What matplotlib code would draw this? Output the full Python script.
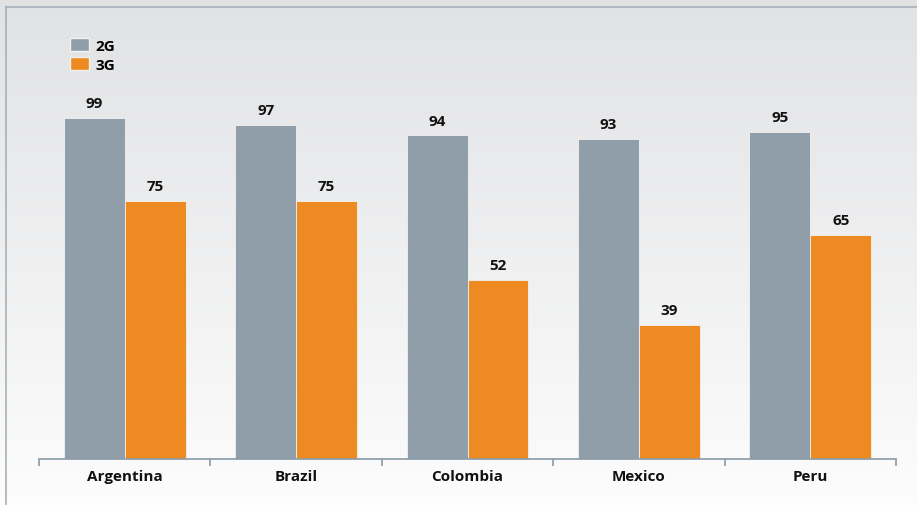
import numpy as np
import matplotlib
matplotlib.use("Agg")
import matplotlib.pyplot as plt
from matplotlib.lines import Line2D
from matplotlib.patches import Patch

countries = ["Argentina", "Brazil", "Colombia", "Mexico", "Peru"]
g2 = [99, 97, 94, 93, 95]
g3 = [75, 75, 52, 39, 65]
series_names = ["2G", "3G"]

col_2g = "#8f9ea8"
col_3g = "#ee8a22"
font = ["Open Sans", "DejaVu Sans"]

W, H = 917, 506
fig = plt.figure(figsize=(W / 100, H / 100), dpi=100)

# gradient background
bg = fig.add_axes([0, 0, 1, 1], zorder=-5)
grad = np.linspace(0, 1, 256).reshape(-1, 1)
top = np.array([0.882, 0.886, 0.894])
bot = np.array([0.99, 0.99, 0.99])
img = top + (bot - top) * grad[..., None]
bg.imshow(img, aspect="auto", extent=[0, 1, 0, 1], origin="upper")
bg.axis("off")

# frame lines top and left
fig.add_artist(Line2D([6 / W, 1], [1 - 7.5 / H, 1 - 7.5 / H], color="#a7b1ba", lw=1.2))
fig.add_artist(Line2D([6 / W, 6 / W], [0, 1 - 7.5 / H], color="#a7b1ba", lw=1.2))

left, right, bottom, topy = 39, 896, 460, 8
ax = fig.add_axes([left / W, 1 - bottom / H, (right - left) / W, (bottom - topy) / H])
ax.patch.set_alpha(0)

x = np.arange(len(countries))
bw = 0.355
b1 = ax.bar(x - bw / 2, g2, bw, color=col_2g, edgecolor="#f2f2f2", linewidth=0.6)
b2 = ax.bar(x + bw / 2, g3, bw, color=col_3g, edgecolor="#f2f2f2", linewidth=0.6)

for bars, vals in ((b1, g2), (b2, g3)):
    for b, v in zip(bars, vals):
        ax.annotate(str(v), (b.get_x() + b.get_width() / 2, v), xytext=(0, 5.5),
                    textcoords="offset points", ha="center", va="bottom",
                    fontsize=11, fontweight="bold", family=font, color="#111111")

ax.set_xlim(-0.5, len(countries) - 0.5)
ax.set_ylim(0, (bottom - topy) / 3.445)

for s in ["top", "right", "left"]:
    ax.spines[s].set_visible(False)
ax.spines["bottom"].set_color("#8a9aa8")
ax.spines["bottom"].set_linewidth(1.2)
ax.set_yticks([])
ax.set_xticks(np.arange(-0.5, len(countries), 1))
ax.set_xticklabels([])
ax.tick_params(axis="x", length=5, width=1.2, color="#8a9aa8", direction="out")
ax.set_xticks(x, minor=True)
ax.set_xticklabels(countries, minor=True, fontsize=11, fontweight="bold", family=font, color="#111111")
ax.tick_params(axis="x", which="minor", length=0, pad=7)

handles = [Patch(facecolor=col_2g, edgecolor="#f2f2f2"), Patch(facecolor=col_3g, edgecolor="#f2f2f2")]
fig.legend(handles, series_names, loc="upper left", bbox_to_anchor=(56 / W, 1 - 25 / H),
           frameon=False, handlelength=1.25, handleheight=1.0, handletextpad=0.45,
           labelspacing=0.25, prop={"family": font, "weight": "bold", "size": 11})

fig.savefig("out.png", dpi=100)
